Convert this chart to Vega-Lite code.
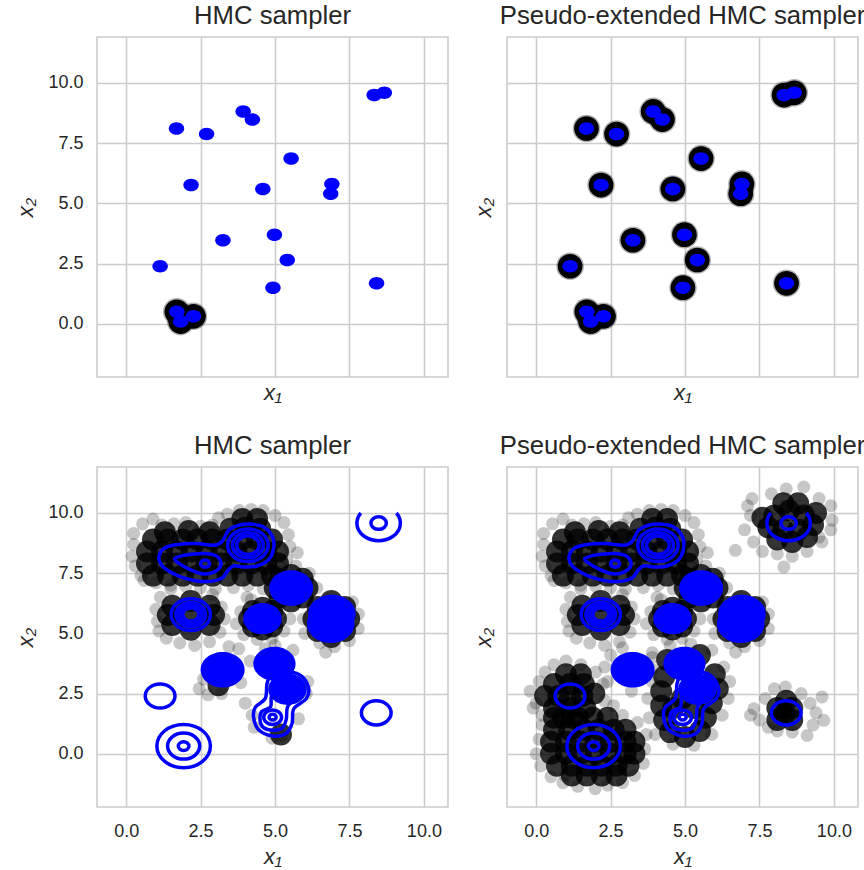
{
  "$schema": "https://vega.github.io/schema/vega-lite/v6.json",
  "padding": {"left": 14, "top": 2, "right": 0, "bottom": 0},
  "background": "white",
  "datasets": {
    "modes": [
      {"x": 2.18, "y": 5.76}, {"x": 8.67, "y": 9.59}, {"x": 4.24, "y": 8.48}, {"x": 8.41, "y": 1.68},
      {"x": 3.93, "y": 8.82}, {"x": 3.25, "y": 3.47}, {"x": 1.70, "y": 0.50}, {"x": 4.59, "y": 5.60},
      {"x": 6.91, "y": 5.81}, {"x": 6.87, "y": 5.40}, {"x": 5.41, "y": 2.65}, {"x": 2.70, "y": 7.88},
      {"x": 4.98, "y": 3.70}, {"x": 1.14, "y": 2.39}, {"x": 8.33, "y": 9.50}, {"x": 4.93, "y": 1.50},
      {"x": 1.83, "y": 0.09}, {"x": 2.26, "y": 0.31}, {"x": 5.54, "y": 6.86}, {"x": 1.69, "y": 8.11}
    ],
    "hmcTop": [
      {"x": 1.70, "y": 0.50}, {"x": 1.83, "y": 0.09}, {"x": 2.26, "y": 0.31}
    ],
    "rings": [
      {"x": 2.65, "y": 7.9, "r": 0.15},
      {"x": 4.09, "y": 8.66, "r": 0.68}, {"x": 4.09, "y": 8.66, "r": 0.52}, {"x": 4.09, "y": 8.66, "r": 0.38},
      {"x": 2.17, "y": 5.78, "r": 0.66}, {"x": 2.17, "y": 5.78, "r": 0.5}, {"x": 2.17, "y": 5.78, "r": 0.38}, {"x": 2.17, "y": 5.78, "r": 0.27},
      {"x": 1.14, "y": 2.4, "r": 0.5},
      {"x": 1.93, "y": 0.32, "r": 0.18}, {"x": 1.93, "y": 0.32, "r": 0.54}, {"x": 1.93, "y": 0.32, "r": 0.9},
      {"x": 8.4, "y": 1.7, "r": 0.5},
      {"x": 8.48, "y": 9.58, "r": 0.26},
      {"x": 4.92, "y": 1.52, "r": 0.12}, {"x": 4.92, "y": 1.52, "r": 0.3}
    ],
    "arcs": [
      {"x": 8.48, "y": 9.58, "r": 0.73}
    ],
    "blobs": [
      {"x": 5.54, "y": 6.88, "r": 0.74}, {"x": 4.58, "y": 5.61, "r": 0.65},
      {"x": 6.91, "y": 5.81, "r": 0.8}, {"x": 6.87, "y": 5.40, "r": 0.8},
      {"x": 3.24, "y": 3.49, "r": 0.74}, {"x": 4.98, "y": 3.74, "r": 0.71},
      {"x": 5.42, "y": 2.68, "r": 0.65}
    ],
    "paths": [
      {"id": "c1", "o": 1, "x": 1.11, "y": 8.24}, {"id": "c1", "o": 2, "x": 1.26, "y": 8.52},
      {"id": "c1", "o": 3, "x": 1.65, "y": 8.68}, {"id": "c1", "o": 4, "x": 2.32, "y": 8.73},
      {"id": "c1", "o": 5, "x": 2.94, "y": 8.66}, {"id": "c1", "o": 6, "x": 3.22, "y": 8.82},
      {"id": "c1", "o": 7, "x": 3.44, "y": 9.28}, {"id": "c1", "o": 8, "x": 3.78, "y": 9.49},
      {"id": "c1", "o": 9, "x": 4.17, "y": 9.54}, {"id": "c1", "o": 10, "x": 4.62, "y": 9.42},
      {"id": "c1", "o": 11, "x": 4.92, "y": 9.0}, {"id": "c1", "o": 12, "x": 4.95, "y": 8.52},
      {"id": "c1", "o": 13, "x": 4.79, "y": 8.07}, {"id": "c1", "o": 14, "x": 4.39, "y": 7.8},
      {"id": "c1", "o": 15, "x": 3.95, "y": 7.76}, {"id": "c1", "o": 16, "x": 3.61, "y": 7.8},
      {"id": "c1", "o": 17, "x": 3.42, "y": 7.62}, {"id": "c1", "o": 18, "x": 3.22, "y": 7.3},
      {"id": "c1", "o": 19, "x": 2.82, "y": 7.16}, {"id": "c1", "o": 20, "x": 2.32, "y": 7.19},
      {"id": "c1", "o": 21, "x": 1.76, "y": 7.38}, {"id": "c1", "o": 22, "x": 1.31, "y": 7.69},
      {"id": "c1", "o": 23, "x": 1.13, "y": 7.96},
      {"id": "c2", "o": 1, "x": 1.63, "y": 8.1}, {"id": "c2", "o": 2, "x": 1.93, "y": 8.24},
      {"id": "c2", "o": 3, "x": 2.43, "y": 8.31}, {"id": "c2", "o": 4, "x": 2.88, "y": 8.28},
      {"id": "c2", "o": 5, "x": 3.13, "y": 8.1}, {"id": "c2", "o": 6, "x": 3.16, "y": 7.76},
      {"id": "c2", "o": 7, "x": 2.88, "y": 7.51}, {"id": "c2", "o": 8, "x": 2.54, "y": 7.48},
      {"id": "c2", "o": 9, "x": 2.15, "y": 7.65}, {"id": "c2", "o": 10, "x": 1.76, "y": 7.92},
      {"id": "c3", "o": 1, "x": 4.92, "y": 0.74}, {"id": "c3", "o": 2, "x": 5.35, "y": 0.83},
      {"id": "c3", "o": 3, "x": 5.57, "y": 1.25}, {"id": "c3", "o": 4, "x": 5.63, "y": 1.87},
      {"id": "c3", "o": 5, "x": 6.05, "y": 2.29}, {"id": "c3", "o": 6, "x": 6.12, "y": 2.77},
      {"id": "c3", "o": 7, "x": 5.82, "y": 3.28}, {"id": "c3", "o": 8, "x": 5.23, "y": 3.4},
      {"id": "c3", "o": 9, "x": 4.84, "y": 3.2}, {"id": "c3", "o": 10, "x": 4.73, "y": 2.9},
      {"id": "c3", "o": 11, "x": 4.67, "y": 2.29}, {"id": "c3", "o": 12, "x": 4.34, "y": 1.94},
      {"id": "c3", "o": 13, "x": 4.28, "y": 1.52}, {"id": "c3", "o": 14, "x": 4.45, "y": 1.0},
      {"id": "c4", "o": 1, "x": 4.92, "y": 0.98}, {"id": "c4", "o": 2, "x": 5.25, "y": 1.08},
      {"id": "c4", "o": 3, "x": 5.38, "y": 1.45}, {"id": "c4", "o": 4, "x": 5.42, "y": 1.95},
      {"id": "c4", "o": 5, "x": 5.7, "y": 2.4}, {"id": "c4", "o": 6, "x": 5.6, "y": 2.9},
      {"id": "c4", "o": 7, "x": 5.1, "y": 2.9}, {"id": "c4", "o": 8, "x": 4.88, "y": 2.4},
      {"id": "c4", "o": 9, "x": 4.85, "y": 1.95}, {"id": "c4", "o": 10, "x": 4.55, "y": 1.75},
      {"id": "c4", "o": 11, "x": 4.5, "y": 1.35}, {"id": "c4", "o": 12, "x": 4.62, "y": 1.08}
    ],
    "core": [
      {"p": "B", "x": 0.9, "y": 7.4}, {"p": "B", "x": 1.4, "y": 7.4}, {"p": "B", "x": 1.9, "y": 7.4}, {"p": "B", "x": 2.4, "y": 7.4}, {"p": "B", "x": 2.9, "y": 7.4}, {"p": "B", "x": 3.4, "y": 7.4}, {"p": "B", "x": 3.9, "y": 7.4}, {"p": "B", "x": 4.4, "y": 7.4}, {"p": "B", "x": 4.9, "y": 7.4},
      {"p": "B", "x": 0.7, "y": 7.9}, {"p": "B", "x": 1.2, "y": 7.9}, {"p": "B", "x": 1.7, "y": 7.9}, {"p": "B", "x": 2.2, "y": 7.9}, {"p": "B", "x": 2.7, "y": 7.9}, {"p": "B", "x": 3.2, "y": 7.9}, {"p": "B", "x": 3.7, "y": 7.9}, {"p": "B", "x": 4.2, "y": 7.9}, {"p": "B", "x": 4.7, "y": 7.9}, {"p": "B", "x": 5.1, "y": 7.9},
      {"p": "B", "x": 0.7, "y": 8.4}, {"p": "B", "x": 1.2, "y": 8.4}, {"p": "B", "x": 1.7, "y": 8.4}, {"p": "B", "x": 2.2, "y": 8.4}, {"p": "B", "x": 2.7, "y": 8.4}, {"p": "B", "x": 3.2, "y": 8.4}, {"p": "B", "x": 3.7, "y": 8.4}, {"p": "B", "x": 4.2, "y": 8.4}, {"p": "B", "x": 4.7, "y": 8.4}, {"p": "B", "x": 5.1, "y": 8.4},
      {"p": "B", "x": 0.9, "y": 8.9}, {"p": "B", "x": 1.4, "y": 8.9}, {"p": "B", "x": 1.9, "y": 8.9}, {"p": "B", "x": 2.4, "y": 8.9}, {"p": "B", "x": 2.9, "y": 8.9}, {"p": "B", "x": 3.4, "y": 8.9}, {"p": "B", "x": 3.9, "y": 8.9}, {"p": "B", "x": 4.4, "y": 8.9}, {"p": "B", "x": 4.9, "y": 8.9},
      {"p": "B", "x": 1.3, "y": 9.2}, {"p": "B", "x": 2.1, "y": 9.25}, {"p": "B", "x": 2.8, "y": 9.2},
      {"p": "B", "x": 3.5, "y": 9.35}, {"p": "B", "x": 4.0, "y": 9.4}, {"p": "B", "x": 4.5, "y": 9.35},
      {"p": "B", "x": 3.9, "y": 9.75}, {"p": "B", "x": 4.4, "y": 9.75},
      {"p": "B", "x": 1.55, "y": 5.35}, {"p": "B", "x": 1.55, "y": 6.15}, {"p": "B", "x": 2.17, "y": 6.35}, {"p": "B", "x": 2.17, "y": 5.15}, {"p": "B", "x": 2.8, "y": 5.35}, {"p": "B", "x": 2.8, "y": 6.15}, {"p": "B", "x": 1.4, "y": 5.76}, {"p": "B", "x": 2.95, "y": 5.76}, {"p": "B", "x": 2.17, "y": 5.76},
      {"p": "B", "x": 6.09, "y": 6.88}, {"p": "B", "x": 5.93, "y": 7.27}, {"p": "B", "x": 5.54, "y": 7.43}, {"p": "B", "x": 5.15, "y": 7.27}, {"p": "B", "x": 4.99, "y": 6.88}, {"p": "B", "x": 5.15, "y": 6.49}, {"p": "B", "x": 5.54, "y": 6.33}, {"p": "B", "x": 5.93, "y": 6.49},
      {"p": "B", "x": 5.03, "y": 5.61}, {"p": "B", "x": 4.9, "y": 5.93}, {"p": "B", "x": 4.58, "y": 6.06}, {"p": "B", "x": 4.26, "y": 5.93}, {"p": "B", "x": 4.13, "y": 5.61}, {"p": "B", "x": 4.26, "y": 5.29}, {"p": "B", "x": 4.58, "y": 5.16}, {"p": "B", "x": 4.9, "y": 5.29},
      {"p": "B", "x": 7.49, "y": 5.6}, {"p": "B", "x": 7.35, "y": 6.1}, {"p": "B", "x": 6.89, "y": 6.35}, {"p": "B", "x": 6.43, "y": 6.1}, {"p": "B", "x": 6.29, "y": 5.6}, {"p": "B", "x": 6.43, "y": 5.1}, {"p": "B", "x": 6.89, "y": 4.85}, {"p": "B", "x": 7.35, "y": 5.1},
      {"p": "L", "x": 3.1, "y": 2.85}, {"p": "L", "x": 5.2, "y": 0.8},
      {"p": "R", "x": 4.2, "y": 2.6}, {"p": "R", "x": 4.2, "y": 2.0}, {"p": "R", "x": 4.3, "y": 1.4}, {"p": "R", "x": 4.5, "y": 0.9}, {"p": "R", "x": 5.0, "y": 0.7}, {"p": "R", "x": 5.5, "y": 0.95}, {"p": "R", "x": 5.7, "y": 1.5}, {"p": "R", "x": 5.9, "y": 2.1}, {"p": "R", "x": 6.1, "y": 2.7}, {"p": "R", "x": 6.0, "y": 3.3}, {"p": "R", "x": 4.3, "y": 3.2}, {"p": "R", "x": 4.4, "y": 3.9}, {"p": "R", "x": 5.5, "y": 4.1}, {"p": "R", "x": 4.6, "y": 1.9}, {"p": "R", "x": 5.3, "y": 1.9}, {"p": "R", "x": 4.9, "y": 2.3},
      {"p": "R", "x": 1.14, "y": 2.39}, {"p": "R", "x": 0.75, "y": 2.4}, {"p": "R", "x": 1.55, "y": 2.4}, {"p": "R", "x": 1.14, "y": 2.9}, {"p": "R", "x": 1.14, "y": 1.9}, {"p": "R", "x": 0.6, "y": 2.9}, {"p": "R", "x": 1.6, "y": 2.9}, {"p": "R", "x": 0.6, "y": 1.9}, {"p": "R", "x": 1.65, "y": 1.9}, {"p": "R", "x": 0.3, "y": 2.4}, {"p": "R", "x": 1.95, "y": 2.5}, {"p": "R", "x": 1.0, "y": 3.3}, {"p": "R", "x": 1.5, "y": 3.3}, {"p": "R", "x": 0.6, "y": 1.5}, {"p": "R", "x": 1.2, "y": 1.5},
      {"p": "R", "x": 0.9, "y": 1.5}, {"p": "R", "x": 1.4, "y": 1.5}, {"p": "R", "x": 1.9, "y": 1.5}, {"p": "R", "x": 2.4, "y": 1.5},
      {"p": "R", "x": 0.6, "y": 1.0}, {"p": "R", "x": 1.1, "y": 1.0}, {"p": "R", "x": 1.6, "y": 1.0}, {"p": "R", "x": 2.1, "y": 1.0}, {"p": "R", "x": 2.6, "y": 1.0}, {"p": "R", "x": 3.0, "y": 1.0},
      {"p": "R", "x": 0.5, "y": 0.5}, {"p": "R", "x": 1.0, "y": 0.5}, {"p": "R", "x": 1.5, "y": 0.5}, {"p": "R", "x": 2.0, "y": 0.5}, {"p": "R", "x": 2.5, "y": 0.5}, {"p": "R", "x": 3.0, "y": 0.5}, {"p": "R", "x": 3.3, "y": 0.5},
      {"p": "R", "x": 0.5, "y": 0.0}, {"p": "R", "x": 1.0, "y": 0.0}, {"p": "R", "x": 1.5, "y": 0.0}, {"p": "R", "x": 2.0, "y": 0.0}, {"p": "R", "x": 2.5, "y": 0.0}, {"p": "R", "x": 3.0, "y": 0.0}, {"p": "R", "x": 3.3, "y": 0.0},
      {"p": "R", "x": 0.7, "y": -0.5}, {"p": "R", "x": 1.2, "y": -0.5}, {"p": "R", "x": 1.7, "y": -0.5}, {"p": "R", "x": 2.2, "y": -0.5}, {"p": "R", "x": 2.7, "y": -0.5}, {"p": "R", "x": 3.1, "y": -0.5},
      {"p": "R", "x": 1.2, "y": -0.9}, {"p": "R", "x": 1.7, "y": -0.9}, {"p": "R", "x": 2.2, "y": -0.9}, {"p": "R", "x": 2.7, "y": -0.9},
      {"p": "R", "x": 8.0, "y": 9.9}, {"p": "R", "x": 8.5, "y": 10.1}, {"p": "R", "x": 9.0, "y": 9.9}, {"p": "R", "x": 7.8, "y": 9.4}, {"p": "R", "x": 8.3, "y": 9.3}, {"p": "R", "x": 8.8, "y": 9.3}, {"p": "R", "x": 9.3, "y": 9.5}, {"p": "R", "x": 8.1, "y": 8.9}, {"p": "R", "x": 8.6, "y": 8.8}, {"p": "R", "x": 9.1, "y": 9.0}, {"p": "R", "x": 8.3, "y": 10.4}, {"p": "R", "x": 8.8, "y": 10.4}, {"p": "R", "x": 7.6, "y": 9.8}, {"p": "R", "x": 9.4, "y": 10.0},
      {"p": "R", "x": 8.1, "y": 1.9}, {"p": "R", "x": 8.6, "y": 1.9}, {"p": "R", "x": 8.1, "y": 1.4}, {"p": "R", "x": 8.6, "y": 1.4}, {"p": "R", "x": 8.4, "y": 2.2}, {"p": "R", "x": 8.35, "y": 1.65}
    ],
    "fringe": [
      {"p": "B", "x": 0.2, "y": 8.2}, {"p": "B", "x": 0.25, "y": 8.7}, {"p": "B", "x": 0.3, "y": 7.8}, {"p": "B", "x": 0.25, "y": 9.15}, {"p": "B", "x": 0.55, "y": 9.55}, {"p": "B", "x": 0.9, "y": 9.75}, {"p": "B", "x": 0.5, "y": 7.4},
      {"p": "B", "x": 1.2, "y": 9.5}, {"p": "B", "x": 1.6, "y": 9.55}, {"p": "B", "x": 2.0, "y": 9.6}, {"p": "B", "x": 2.5, "y": 9.45}, {"p": "B", "x": 2.9, "y": 9.5}, {"p": "B", "x": 3.1, "y": 9.8},
      {"p": "B", "x": 3.4, "y": 9.95}, {"p": "B", "x": 3.8, "y": 10.1}, {"p": "B", "x": 4.2, "y": 10.15}, {"p": "B", "x": 4.6, "y": 10.1}, {"p": "B", "x": 5.0, "y": 9.9}, {"p": "B", "x": 5.3, "y": 9.6},
      {"p": "B", "x": 5.45, "y": 9.1}, {"p": "B", "x": 5.5, "y": 8.6}, {"p": "B", "x": 5.4, "y": 8.1}, {"p": "B", "x": 5.75, "y": 8.35},
      {"p": "B", "x": 5.1, "y": 7.3}, {"p": "B", "x": 4.1, "y": 7.0}, {"p": "B", "x": 3.6, "y": 6.9}, {"p": "B", "x": 3.0, "y": 6.85}, {"p": "B", "x": 2.5, "y": 6.9}, {"p": "B", "x": 2.0, "y": 6.95}, {"p": "B", "x": 1.5, "y": 7.0}, {"p": "B", "x": 1.0, "y": 7.1}, {"p": "B", "x": 0.6, "y": 7.2},
      {"p": "B", "x": 1.0, "y": 6.0}, {"p": "B", "x": 1.05, "y": 5.5}, {"p": "B", "x": 1.15, "y": 6.5}, {"p": "B", "x": 1.5, "y": 6.85}, {"p": "B", "x": 2.9, "y": 6.6}, {"p": "B", "x": 3.2, "y": 6.1}, {"p": "B", "x": 3.3, "y": 5.6}, {"p": "B", "x": 3.15, "y": 5.05}, {"p": "B", "x": 2.8, "y": 4.65}, {"p": "B", "x": 2.3, "y": 4.5}, {"p": "B", "x": 1.8, "y": 4.6}, {"p": "B", "x": 1.35, "y": 4.8}, {"p": "B", "x": 1.1, "y": 5.1},
      {"p": "B", "x": 4.75, "y": 7.45}, {"p": "B", "x": 5.2, "y": 7.75}, {"p": "B", "x": 5.7, "y": 7.8}, {"p": "B", "x": 6.15, "y": 7.5}, {"p": "B", "x": 6.4, "y": 6.9}, {"p": "B", "x": 4.6, "y": 6.85}, {"p": "B", "x": 4.2, "y": 6.4}, {"p": "B", "x": 3.85, "y": 5.9}, {"p": "B", "x": 3.7, "y": 5.4}, {"p": "B", "x": 3.95, "y": 4.95}, {"p": "B", "x": 4.4, "y": 4.75}, {"p": "B", "x": 4.9, "y": 4.8}, {"p": "B", "x": 5.3, "y": 5.1}, {"p": "B", "x": 5.5, "y": 5.6}, {"p": "B", "x": 7.6, "y": 6.3}, {"p": "B", "x": 7.8, "y": 5.8}, {"p": "B", "x": 7.8, "y": 5.2}, {"p": "B", "x": 7.5, "y": 4.7}, {"p": "B", "x": 7.0, "y": 4.45}, {"p": "B", "x": 6.5, "y": 4.6}, {"p": "B", "x": 6.0, "y": 5.0}, {"p": "B", "x": 5.95, "y": 5.6}, {"p": "B", "x": 6.7, "y": 4.22}, {"p": "B", "x": 4.06, "y": 6.5},
      {"p": "L", "x": 2.45, "y": 2.7}, {"p": "L", "x": 2.75, "y": 2.45}, {"p": "L", "x": 3.2, "y": 2.5}, {"p": "L", "x": 3.85, "y": 2.95}, {"p": "L", "x": 3.45, "y": 4.45}, {"p": "L", "x": 2.6, "y": 3.1},
      {"p": "L", "x": 4.17, "y": 3.85}, {"p": "L", "x": 3.78, "y": 4.36}, {"p": "L", "x": 4.67, "y": 4.36}, {"p": "L", "x": 4.23, "y": 1.6}, {"p": "L", "x": 4.3, "y": 1.1}, {"p": "L", "x": 5.23, "y": 0.75}, {"p": "L", "x": 5.79, "y": 1.45}, {"p": "L", "x": 6.05, "y": 2.5}, {"p": "L", "x": 6.1, "y": 3.0}, {"p": "L", "x": 4.9, "y": 0.65}, {"p": "L", "x": 4.0, "y": 2.1}, {"p": "L", "x": 5.6, "y": 4.3}, {"p": "L", "x": 5.0, "y": 4.5},
      {"p": "R", "x": 2.3, "y": 3.6}, {"p": "R", "x": 2.5, "y": 4.1}, {"p": "R", "x": 2.9, "y": 4.4}, {"p": "R", "x": 2.4, "y": 3.0}, {"p": "R", "x": 3.2, "y": 2.6}, {"p": "R", "x": 3.9, "y": 3.0}, {"p": "R", "x": 3.9, "y": 4.0},
      {"p": "R", "x": 3.75, "y": 2.3}, {"p": "R", "x": 3.8, "y": 1.5}, {"p": "R", "x": 4.0, "y": 0.8}, {"p": "R", "x": 4.6, "y": 0.4}, {"p": "R", "x": 5.3, "y": 0.35}, {"p": "R", "x": 5.9, "y": 0.8}, {"p": "R", "x": 6.25, "y": 1.6}, {"p": "R", "x": 6.45, "y": 2.3}, {"p": "R", "x": 6.5, "y": 3.0}, {"p": "R", "x": 6.3, "y": 3.6}, {"p": "R", "x": 5.9, "y": 4.3}, {"p": "R", "x": 5.2, "y": 4.55}, {"p": "R", "x": 4.5, "y": 4.5}, {"p": "R", "x": 3.9, "y": 4.2}, {"p": "R", "x": 3.9, "y": 3.5},
      {"p": "R", "x": -0.2, "y": 2.6}, {"p": "R", "x": 0.0, "y": 2.1}, {"p": "R", "x": 0.1, "y": 3.0}, {"p": "R", "x": 0.3, "y": 3.4}, {"p": "R", "x": 0.6, "y": 3.7}, {"p": "R", "x": 1.0, "y": 3.85}, {"p": "R", "x": 1.5, "y": 3.7}, {"p": "R", "x": 2.0, "y": 3.4}, {"p": "R", "x": 2.25, "y": 2.9}, {"p": "R", "x": 2.3, "y": 2.2}, {"p": "R", "x": 0.2, "y": 1.6}, {"p": "R", "x": -0.1, "y": 1.9},
      {"p": "R", "x": 0.2, "y": 1.2}, {"p": "R", "x": 0.1, "y": 0.6}, {"p": "R", "x": 0.0, "y": 0.0}, {"p": "R", "x": 0.15, "y": -0.5}, {"p": "R", "x": 0.5, "y": -0.95}, {"p": "R", "x": 0.97, "y": -0.9}, {"p": "R", "x": 0.9, "y": -1.2}, {"p": "R", "x": 1.4, "y": -1.35}, {"p": "R", "x": 1.98, "y": -1.45}, {"p": "R", "x": 2.4, "y": -1.3}, {"p": "R", "x": 2.9, "y": -1.2}, {"p": "R", "x": 3.3, "y": -0.9}, {"p": "R", "x": 3.6, "y": -0.4}, {"p": "R", "x": 3.65, "y": 0.2}, {"p": "R", "x": 3.7, "y": 0.8}, {"p": "R", "x": 3.4, "y": 1.3}, {"p": "R", "x": 2.9, "y": 1.6}, {"p": "R", "x": 2.6, "y": 2.0},
      {"p": "R", "x": 7.2, "y": 9.9}, {"p": "R", "x": 7.0, "y": 9.3}, {"p": "R", "x": 7.3, "y": 8.8}, {"p": "R", "x": 7.6, "y": 8.4}, {"p": "R", "x": 8.1, "y": 8.3}, {"p": "R", "x": 8.6, "y": 8.2}, {"p": "R", "x": 9.1, "y": 8.4}, {"p": "R", "x": 9.6, "y": 8.8}, {"p": "R", "x": 9.9, "y": 9.3}, {"p": "R", "x": 9.94, "y": 9.7}, {"p": "R", "x": 9.9, "y": 10.3}, {"p": "R", "x": 9.5, "y": 10.6}, {"p": "R", "x": 8.99, "y": 11.08}, {"p": "R", "x": 8.4, "y": 11.0}, {"p": "R", "x": 7.9, "y": 10.8}, {"p": "R", "x": 7.25, "y": 10.6}, {"p": "R", "x": 6.69, "y": 8.45}, {"p": "R", "x": 8.32, "y": 7.76}, {"p": "R", "x": 9.5, "y": 9.0}, {"p": "R", "x": 7.1, "y": 10.3},
      {"p": "R", "x": 7.31, "y": 1.87}, {"p": "R", "x": 7.5, "y": 1.4}, {"p": "R", "x": 7.7, "y": 2.3}, {"p": "R", "x": 8.0, "y": 2.7}, {"p": "R", "x": 8.37, "y": 2.77}, {"p": "R", "x": 8.9, "y": 2.5}, {"p": "R", "x": 9.2, "y": 2.1}, {"p": "R", "x": 9.6, "y": 2.36}, {"p": "R", "x": 9.66, "y": 1.39}, {"p": "R", "x": 9.3, "y": 1.2}, {"p": "R", "x": 9.1, "y": 0.76}, {"p": "R", "x": 8.6, "y": 0.9}, {"p": "R", "x": 8.1, "y": 0.95}, {"p": "R", "x": 7.8, "y": 1.1}, {"p": "R", "x": 9.4, "y": 1.7}, {"p": "R", "x": 7.2, "y": 1.6}
    ]
  },
  "columns": 2,
  "spacing": {"row": 90, "column": 59},
  "bounds": "flush",
  "concat": [
    {
      "width": 351, "height": 340,
      "title": "HMC sampler",
      "encoding": {
        "x": {"field": "x", "type": "quantitative", "scale": {"domain": [-0.98, 10.81], "nice": false, "zero": false}, "axis": {"values": [0, 2.5, 5, 7.5, 10], "format": ".1f", "labels": false, "title": "x₁", "titlePadding": 5}},
        "y": {"field": "y", "type": "quantitative", "scale": {"domain": [-2.21, 11.91], "nice": false, "zero": false}, "axis": {"values": [0, 2.5, 5, 7.5, 10], "format": ".1f", "title": "x₂"}}
      },
      "layer": [
        {"data": {"name": "hmcTop"}, "mark": {"type": "point", "shape": "circle", "filled": true, "color": "black", "opacity": 0.3, "size": 760, "clip": true}},
        {"data": {"name": "hmcTop"}, "mark": {"type": "point", "shape": "circle", "filled": true, "color": "black", "opacity": 1, "size": 610, "clip": true}},
        {"data": {"name": "modes"}, "mark": {"type": "point", "shape": "M1,0A1,0.809,0,1,1,-1,0A1,0.809,0,1,1,1,0Z", "filled": true, "color": "#0000ff", "opacity": 1, "size": 239, "clip": true}}
      ]
    },
    {
      "width": 351, "height": 340,
      "title": "Pseudo-extended HMC sampler",
      "encoding": {
        "x": {"field": "x", "type": "quantitative", "scale": {"domain": [-0.98, 10.81], "nice": false, "zero": false}, "axis": {"values": [0, 2.5, 5, 7.5, 10], "format": ".1f", "labels": false, "title": "x₁", "titlePadding": 5}},
        "y": {"field": "y", "type": "quantitative", "scale": {"domain": [-2.21, 11.91], "nice": false, "zero": false}, "axis": {"values": [0, 2.5, 5, 7.5, 10], "format": ".1f", "labels": false, "title": "x₂", "titlePadding": 12}}
      },
      "layer": [
        {"data": {"name": "modes"}, "mark": {"type": "point", "shape": "circle", "filled": true, "color": "black", "opacity": 0.3, "size": 760, "clip": true}},
        {"data": {"name": "modes"}, "mark": {"type": "point", "shape": "circle", "filled": true, "color": "black", "opacity": 1, "size": 610, "clip": true}},
        {"data": {"name": "modes"}, "mark": {"type": "point", "shape": "M1,0A1,0.809,0,1,1,-1,0A1,0.809,0,1,1,1,0Z", "filled": true, "color": "#0000ff", "opacity": 1, "size": 239, "clip": true}}
      ]
    },
    {
      "width": 351, "height": 340,
      "title": "HMC sampler",
      "encoding": {
        "x": {"field": "x", "type": "quantitative", "scale": {"domain": [-0.98, 10.81], "nice": false, "zero": false}, "axis": {"values": [0, 2.5, 5, 7.5, 10], "format": ".1f", "title": "x₁", "labelPadding": 15, "titlePadding": 6}},
        "y": {"field": "y", "type": "quantitative", "scale": {"domain": [-2.21, 11.91], "nice": false, "zero": false}, "axis": {"values": [0, 2.5, 5, 7.5, 10], "format": ".1f", "title": "x₂"}}
      },
      "layer": [
        {"data": {"name": "fringe"}, "transform": [{"filter": "datum.p != 'R'"}], "mark": {"type": "point", "shape": "circle", "filled": true, "color": "black", "opacity": 0.22, "size": 169, "clip": true}},
        {"data": {"name": "core"}, "transform": [{"filter": "datum.p != 'R'"}], "mark": {"type": "point", "shape": "circle", "filled": true, "color": "black", "opacity": 0.8, "size": 484, "clip": true}},
        {"data": {"name": "paths"}, "mark": {"type": "line", "interpolate": "cardinal-closed", "color": "#0000ff", "strokeWidth": 3.5, "clip": true}, "encoding": {"detail": {"field": "id"}, "order": {"field": "o", "type": "quantitative"}}},
        {"data": {"name": "rings"}, "mark": {"type": "point", "shape": "M1,0A1,0.809,0,1,1,-1,0A1,0.809,0,1,1,1,0Z", "filled": false, "color": "#0000ff", "strokeWidth": 3.5, "opacity": 1, "clip": true}, "encoding": {"size": {"field": "r", "type": "quantitative", "scale": {"type": "pow", "exponent": 2, "domain": [0, 1], "range": [0, 3540]}, "legend": null}}},
        {"data": {"name": "arcs"}, "mark": {"type": "point", "shape": "M-0.818,-0.465A1,0.809,0,1,0,0.818,-0.465", "filled": false, "color": "#0000ff", "strokeWidth": 3.5, "opacity": 1, "clip": true}, "encoding": {"size": {"field": "r", "type": "quantitative", "scale": {"type": "pow", "exponent": 2, "domain": [0, 1], "range": [0, 3540]}, "legend": null}}},
        {"data": {"name": "blobs"}, "mark": {"type": "point", "shape": "M1,0A1,0.809,0,1,1,-1,0A1,0.809,0,1,1,1,0Z", "filled": true, "color": "#0000ff", "opacity": 1, "clip": true}, "encoding": {"size": {"field": "r", "type": "quantitative", "scale": {"type": "pow", "exponent": 2, "domain": [0, 1], "range": [0, 3540]}, "legend": null}}}
      ]
    },
    {
      "width": 351, "height": 340,
      "title": "Pseudo-extended HMC sampler",
      "encoding": {
        "x": {"field": "x", "type": "quantitative", "scale": {"domain": [-0.98, 10.81], "nice": false, "zero": false}, "axis": {"values": [0, 2.5, 5, 7.5, 10], "format": ".1f", "title": "x₁", "labelPadding": 15, "titlePadding": 6}},
        "y": {"field": "y", "type": "quantitative", "scale": {"domain": [-2.21, 11.91], "nice": false, "zero": false}, "axis": {"values": [0, 2.5, 5, 7.5, 10], "format": ".1f", "labels": false, "title": "x₂", "titlePadding": 12}}
      },
      "layer": [
        {"data": {"name": "fringe"}, "transform": [{"filter": "datum.p != 'L'"}], "mark": {"type": "point", "shape": "circle", "filled": true, "color": "black", "opacity": 0.22, "size": 169, "clip": true}},
        {"data": {"name": "core"}, "transform": [{"filter": "datum.p != 'L'"}], "mark": {"type": "point", "shape": "circle", "filled": true, "color": "black", "opacity": 0.8, "size": 484, "clip": true}},
        {"data": {"name": "paths"}, "mark": {"type": "line", "interpolate": "cardinal-closed", "color": "#0000ff", "strokeWidth": 3.5, "clip": true}, "encoding": {"detail": {"field": "id"}, "order": {"field": "o", "type": "quantitative"}}},
        {"data": {"name": "rings"}, "mark": {"type": "point", "shape": "M1,0A1,0.809,0,1,1,-1,0A1,0.809,0,1,1,1,0Z", "filled": false, "color": "#0000ff", "strokeWidth": 3.5, "opacity": 1, "clip": true}, "encoding": {"size": {"field": "r", "type": "quantitative", "scale": {"type": "pow", "exponent": 2, "domain": [0, 1], "range": [0, 3540]}, "legend": null}}},
        {"data": {"name": "arcs"}, "mark": {"type": "point", "shape": "M-0.818,-0.465A1,0.809,0,1,0,0.818,-0.465", "filled": false, "color": "#0000ff", "strokeWidth": 3.5, "opacity": 1, "clip": true}, "encoding": {"size": {"field": "r", "type": "quantitative", "scale": {"type": "pow", "exponent": 2, "domain": [0, 1], "range": [0, 3540]}, "legend": null}}},
        {"data": {"name": "blobs"}, "mark": {"type": "point", "shape": "M1,0A1,0.809,0,1,1,-1,0A1,0.809,0,1,1,1,0Z", "filled": true, "color": "#0000ff", "opacity": 1, "clip": true}, "encoding": {"size": {"field": "r", "type": "quantitative", "scale": {"type": "pow", "exponent": 2, "domain": [0, 1], "range": [0, 3540]}, "legend": null}}}
      ]
    }
  ],
  "config": {
    "font": "Liberation Sans",
    "view": {"stroke": "#cccccc", "strokeWidth": 1.6},
    "axis": {
      "domain": false, "ticks": false, "grid": true,
      "gridColor": "#cccccc", "gridWidth": 1.6, "gridOpacity": 1,
      "labelFontSize": 18, "labelColor": "#262626", "labelPadding": 14,
      "titleFontSize": 22, "titleColor": "#262626", "titleFontWeight": "normal", "titleFontStyle": "italic", "titlePadding": 10
    },
    "title": {"fontSize": 25.7, "fontWeight": "normal", "color": "#262626", "offset": 7}
  }
}
